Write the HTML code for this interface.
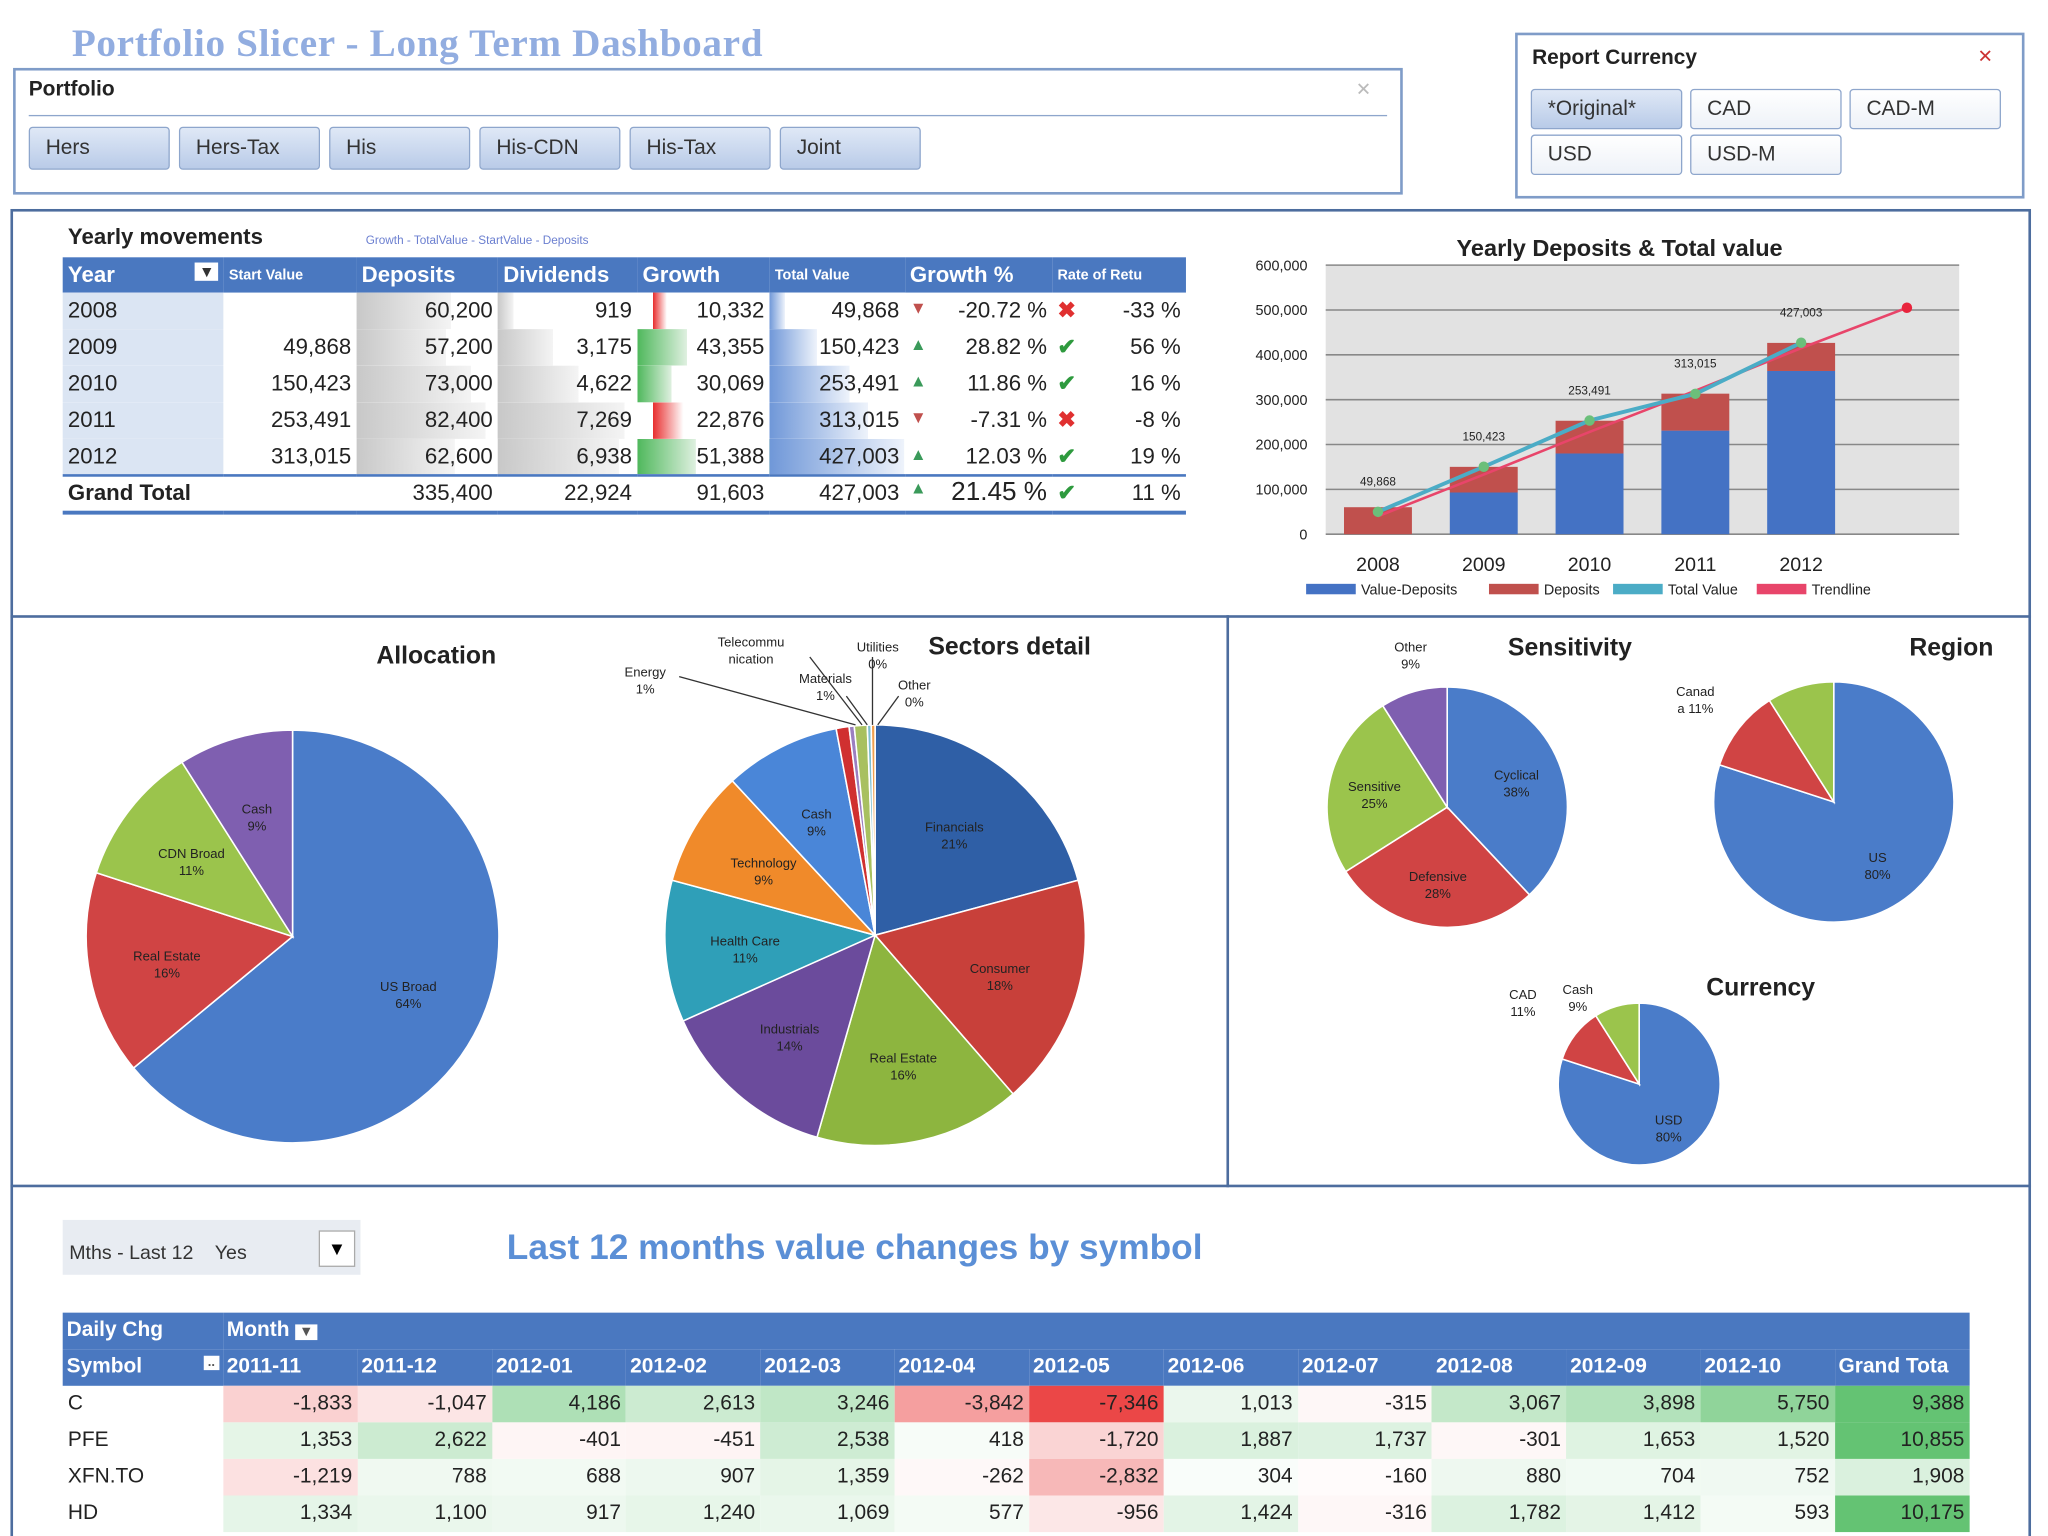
<!DOCTYPE html>
<html><head><meta charset="utf-8">
<style>
html,body{margin:0;padding:0;background:#fff;}
body{width:2048px;height:1536px;overflow:hidden;position:relative;font-family:"Liberation Sans",sans-serif;}
#stage{position:absolute;left:0;top:0;width:1568px;height:1176px;overflow:hidden;transform:scale(1.306122);transform-origin:0 0;}
.abs{position:absolute;}
.box{position:absolute;border:2px solid #7f9cc8;box-sizing:border-box;}
.btn{position:absolute;height:33px;box-sizing:border-box;border:1px solid #8ea6cc;border-radius:3px;background:linear-gradient(#dfe8f6,#b9cbe8);font-size:16px;color:#333;line-height:31px;padding-left:12px;}
.btn2{background:linear-gradient(#fff,#eef2f8);}
table{border-collapse:collapse;}
.ym td{height:28px;font-size:17px;color:#222;text-align:right;padding:0 4px;box-sizing:border-box;position:relative;}
.ym th{height:27px;background:#4a78c0;color:#fff;font-size:17px;text-align:left;padding:0 4px;}
.hm td{height:28px;font-size:16px;color:#222;text-align:right;padding:0 4px;}
.hm th{background:#4a78c0;color:#fff;font-size:16px;text-align:left;font-weight:bold;padding:0 3px;height:28px;}
</style></head>
<body>
<div id="stage">
<div class="abs" style="left:55px;top:17px;font-size:30px;font-weight:bold;color:#92ade0;font-family:'Liberation Serif',serif;letter-spacing:0.5px;">Portfolio Slicer - Long Term Dashboard</div>

<div class="box" style="left:10px;top:52px;width:1064px;height:97px;">
  <div class="abs" style="left:10px;top:6px;font-size:16px;font-weight:bold;color:#222;">Portfolio</div>
  <div class="abs" style="left:10px;top:34px;width:1040px;height:1px;background:#8ea6cc;"></div>
  <div class="abs" style="left:1026px;top:6px;color:#bbb;font-size:14px;">✕</div>
  <div class="btn" style="left:10px;top:43px;width:108px;">Hers</div>
  <div class="btn" style="left:125px;top:43px;width:108px;">Hers-Tax</div>
  <div class="btn" style="left:240px;top:43px;width:108px;">His</div>
  <div class="btn" style="left:355px;top:43px;width:108px;">His-CDN</div>
  <div class="btn" style="left:470px;top:43px;width:108px;">His-Tax</div>
  <div class="btn" style="left:585px;top:43px;width:108px;">Joint</div>
</div>

<div class="box" style="left:1160px;top:25px;width:390px;height:127px;">
  <div class="abs" style="left:11px;top:9px;font-size:16px;font-weight:bold;color:#222;">Report Currency</div>
  <div class="abs" style="left:352px;top:8px;color:#c33;font-size:14px;">✕</div>
  <div class="btn" style="left:10px;top:41px;width:116px;height:31px;line-height:29px;">*Original*</div>
  <div class="btn btn2" style="left:132px;top:41px;width:116px;height:31px;line-height:29px;">CAD</div>
  <div class="btn btn2" style="left:254px;top:41px;width:116px;height:31px;line-height:29px;">CAD-M</div>
  <div class="btn btn2" style="left:10px;top:76px;width:116px;height:31px;line-height:29px;">USD</div>
  <div class="btn btn2" style="left:132px;top:76px;width:116px;height:31px;line-height:29px;">USD-M</div>
</div>

<div class="box" style="left:8px;top:160px;width:1547px;height:1040px;border-color:#4d6d9e;"></div>
<div class="abs" style="left:8px;top:471px;width:1547px;height:2px;background:#4d6d9e;"></div>
<div class="abs" style="left:939px;top:471px;width:2px;height:438px;background:#4d6d9e;"></div>
<div class="abs" style="left:8px;top:907px;width:1547px;height:2px;background:#4d6d9e;"></div>

<div class="abs" style="left:52px;top:172px;font-size:17px;font-weight:bold;color:#222;">Yearly movements</div>
<div class="abs" style="left:280px;top:179px;font-size:9px;color:#6b7fd0;">Growth - TotalValue - StartValue - Deposits</div>
<table class="ym abs" id="ym" style="left:48px;top:197px;width:860px;"></table>

<svg class="abs" id="bar" style="left:940px;top:170px;" width="600" height="300"></svg>

<svg class="abs" id="pies" style="left:0;top:473px;" width="1568" height="434"></svg>

<div class="abs" style="left:48px;top:934px;width:228px;height:42px;background:#e8ecf2;">
  <span class="abs" style="left:5px;top:17px;font-size:15px;color:#333;">Mths - Last 12 &nbsp;&nbsp; Yes</span>
  <span class="abs" style="left:196px;top:8px;width:26px;height:26px;background:#fff;border:1px solid #aaa;font-size:14px;text-align:center;line-height:26px;">▼</span>
</div>
<div class="abs" style="left:388px;top:940px;font-size:27px;font-weight:bold;color:#5b8fd6;">Last 12 months value changes by symbol</div>
<table class="hm abs" id="hm" style="left:48px;top:1005px;width:1460px;"></table>
</div>

<script>
const years=['2008','2009','2010','2011','2012'];
const startVals=[null,49868,150423,253491,313015];
const deposits=[60200,57200,73000,82400,62600];
const dividends=[919,3175,4622,7269,6938];
const growth=[-10332,43355,30069,-22876,51388];
const totalVals=[49868,150423,253491,313015,427003];
const growthPct=[-20.72,28.82,11.86,-7.31,12.03];
const rateRet=[-33,56,16,-8,19];
const totals=['335,400','22,924','91,603','427,003','21.45','11'];

const barCats=['2008','2009','2010','2011','2012'];
const valueMinusDep=[0,93000,180000,231000,364000];
const depSeries=[60200,57200,73000,82400,62600];
const totalLine=[49868,150423,253491,313015,427003];
const trendVals=[40000,133000,228000,320000,415000,505000];
const yTicks=[0,100000,200000,300000,400000,500000,600000];

const allocLabels=['US Broad','Real Estate','CDN Broad','Cash'];
const allocVals=[64,16,11,9];
const sectorLabels=['Financials','Consumer','Real Estate','Industrials','Health Care','Technology','Cash','Energy','Telecommunication','Materials','Utilities','Other'];
const sectorVals=[21,18,16,14,11,9,9,1,0.4,1,0.3,0.3];
const sensLabels=['Cyclical','Defensive','Sensitive','Other'];
const sensVals=[38,28,25,9];
const regionLabels=['US','Canada','Cash'];
const regionVals=[80,11,9];
const currLabels=['USD','CAD','Cash'];
const currVals=[80,11,9];

const months=['2011-11','2011-12','2012-01','2012-02','2012-03','2012-04','2012-05','2012-06','2012-07','2012-08','2012-09','2012-10','Grand Tota'];
const symbols=['C','PFE','XFN.TO','HD'];
const rowC=[-1833,-1047,4186,2613,3246,-3842,-7346,1013,-315,3067,3898,5750,9388];
const rowPFE=[1353,2622,-401,-451,2538,418,-1720,1887,1737,-301,1653,1520,10855];
const rowXFN=[-1219,788,688,907,1359,-262,-2832,304,-160,880,704,752,1908];
const rowHD=[1334,1100,917,1240,1069,577,-956,1424,-316,1782,1412,593,10175];

const fmt=v=>v==null?'':v.toLocaleString('en-US');
const NS='http://www.w3.org/2000/svg';

(function(){
  const t=document.getElementById('ym');
  const widths=[128,100,106,102,100,102,114,108];
  let h='<tr>';
  const heads=['Year','Start Value','Deposits','Dividends','Growth','Total Value','Growth %','Rate of Retu'];
  heads.forEach((x,i)=>{const fs=(i==1||i==5||i==7)?'11px':'17px';h+=`<th style="width:${widths[i]}px;font-size:${fs}">${x}${i==0?'<span style="float:right;background:#fff;color:#333;font-size:12px;padding:0 3px">▼</span>':''}</th>`;});
  t.innerHTML=h+'</tr>';
  const maxDep=90000,maxDiv=8000,maxT=430000;
  years.forEach((y,i)=>{
    const tr=document.createElement('tr');
    
    
    const g=growth[i];
    const gbg=g<0?`linear-gradient(90deg,#fff 12%,#e83030 12%,#fff ${12+Math.abs(g)/1000}%,#fff)`:`linear-gradient(90deg,#4fb85c,#dff0e0 ${g/52000*45}%,#fff ${g/52000*45}%)`;
    tr.innerHTML=`<td style="text-align:left;background:#dbe5f3">${y}</td><td>${fmt(startVals[i])}</td>`+
      `<td style="background:linear-gradient(90deg,#c8c8c8,#f4f4f4 ${deposits[i]/maxDep*100}%,#fff ${deposits[i]/maxDep*100}%)">${fmt(deposits[i])}</td>`+
      `<td style="background:linear-gradient(90deg,#c8c8c8,#f4f4f4 ${dividends[i]/maxDiv*100}%,#fff ${dividends[i]/maxDiv*100}%)">${fmt(dividends[i])}</td>`+
      `<td style="background:${gbg}">${fmt(Math.abs(g))}</td>`+
      `<td style="background:linear-gradient(90deg,#6f97d8,#eef3fb ${totalVals[i]/maxT*100}%,#fff ${totalVals[i]/maxT*100}%)">${fmt(totalVals[i])}</td>`+
      `<td><span style="float:left;color:${growthPct[i]<0?'#c0504d':'#3a9a5a'};font-size:13px">${growthPct[i]<0?'▼':'▲'}</span>${growthPct[i].toFixed(2)} %</td>`+
      `<td><span style="float:left;color:${rateRet[i]<0?'#e03030':'#2e9a3e'};font-weight:bold">${rateRet[i]<0?'✖':'✔'}</span>${rateRet[i]} %</td>`;
    t.appendChild(tr);
  });
  const tr=document.createElement('tr');
  
  
  tr.style.borderTop='2px solid #4a78c0';tr.style.borderBottom='3px solid #4a78c0';
  tr.innerHTML=`<td style="text-align:left;font-weight:bold">Grand Total</td><td></td><td>${totals[0]}</td><td>${totals[1]}</td><td>${totals[2]}</td><td>${totals[3]}</td><td style="font-size:20px"><span style="float:left;color:#3a9a5a;font-size:13px">▲</span>${totals[4]} %</td><td><span style="float:left;color:#2e9a3e;font-weight:bold">✔</span>${totals[5]} %</td>`;
  t.appendChild(tr);
})();

(function(){
  const s=document.getElementById('bar');
  const px0=75,px1=560,py0=239,py1=33;
  const y=v=>py0-(v/600000)*(py0-py1);
  const step=81,x=i=>px0+40+i*step;
  let o='';
  o+=`<rect x="${px0}" y="${py1}" width="${px1-px0}" height="${py0-py1}" fill="#e2e2e2"/>`;
  yTicks.forEach(t=>{o+=`<line x1="${px0}" x2="${px1}" y1="${y(t)}" y2="${y(t)}" stroke="#888" stroke-width="1.2"/><text x="${px0-14}" y="${y(t)+4}" font-size="11" text-anchor="end" fill="#222">${t.toLocaleString('en-US')}</text>`;});
  o+=`<text x="300" y="26" font-size="18" font-weight="bold" text-anchor="middle" fill="#222">Yearly Deposits &amp; Total value</text>`;
  s.innerHTML=o;
  const add=(tag,attrs,name)=>{const e=document.createElementNS(NS,tag);for(const k in attrs)e.setAttribute(k,attrs[k]);s.appendChild(e);return e;};
  barCats.forEach((c,i)=>{
    const b=valueMinusDep[i],d=depSeries[i];
    add('rect',{x:x(i)-26,y:y(b),width:52,height:y(0)-y(b),fill:'#4472c4'},'bar-value-deposits-'+c);
    add('rect',{x:x(i)-26,y:y(b+d),width:52,height:y(b)-y(b+d),fill:'#c0504d'},'bar-deposits-'+c);
    const tx=add('text',{x:x(i),y:y(totalLine[i])-20,'font-size':9,'text-anchor':'middle',fill:'#222'},'data-label-'+c);tx.textContent=totalLine[i].toLocaleString('en-US');
    const xl=add('text',{x:x(i),y:py0+28,'font-size':15,'text-anchor':'middle',fill:'#222'},'x-label-'+c);xl.textContent=c;
  });
  add('polyline',{points:trendVals.map((v,i)=>x(i)+','+y(v)).join(' '),fill:'none',stroke:'#e8456a','stroke-width':2},'trendline');
  add('circle',{cx:x(5),cy:y(trendVals[5]),r:4,fill:'#e8243c'},'trendline-end');
  add('polyline',{points:totalLine.map((v,i)=>x(i)+','+y(v)).join(' '),fill:'none',stroke:'#4bacc6','stroke-width':3},'total-value-line');
  totalLine.forEach((v,i)=>add('circle',{cx:x(i),cy:y(v),r:4,fill:'#6bbf7a'},'total-value-point'));
  const lg=[['#4472c4','Value-Deposits',60],['#c0504d','Deposits',200],['#4bacc6','Total Value',295],['#e8456a','Trendline',405]];
  lg.forEach(l=>{add('rect',{x:l[2],y:277,width:38,height:8,fill:l[0]},'legend-swatch');const t=add('text',{x:l[2]+42,y:285,'font-size':11,fill:'#222'},'legend-entry');t.textContent=l[1];});
})();

(function(){
  const s=document.getElementById('pies');
  const add=(tag,attrs,name)=>{const e=document.createElementNS(NS,tag);for(const k in attrs)e.setAttribute(k,attrs[k]);s.appendChild(e);return e;};
  function pie(cx,cy,r,vals,labels,colors,key,labelIdx){
    const tot=vals.reduce((a,b)=>a+b,0);let a=-Math.PI/2;
    vals.forEach((v,i)=>{
      const a2=a+v/tot*2*Math.PI;
      const x1=cx+r*Math.cos(a),y1=cy+r*Math.sin(a),x2=cx+r*Math.cos(a2),y2=cy+r*Math.sin(a2);
      const lg=(a2-a)>Math.PI?1:0;
      add('path',{d:`M${cx},${cy}L${x1},${y1}A${r},${r} 0 ${lg} 1 ${x2},${y2}Z`,fill:colors[i%colors.length],stroke:'#fff','stroke-width':1.2},key+'-slice-'+labels[i].toLowerCase().replace(/[^a-z]+/g,'-'));
      if(!labelIdx||labelIdx.includes(i)){
        const m=(a+a2)/2,lr=r*0.62;
        const t=add('text',{x:cx+lr*Math.cos(m),y:cy+lr*Math.sin(m),'font-size':10,'text-anchor':'middle',fill:'#222'},key+'-label');
        t.textContent=labels[i];
        const t2=add('text',{x:cx+lr*Math.cos(m),y:cy+lr*Math.sin(m)+13,'font-size':10,'text-anchor':'middle',fill:'#222'},key+'-pct');
        t2.textContent=Math.round(v)+'%';
      }
      a=a2;
    });
  }
  const title=(x,y,t,n)=>{const e=add('text',{x:x,y:y,'font-size':19,'font-weight':'bold',fill:'#222','text-anchor':'middle'},n);e.textContent=t;};
  title(334,35,'Allocation','allocation-title');
  title(773,28,'Sectors detail','sectors-title');
  title(1202,29,'Sensitivity','sensitivity-title');
  title(1494,29,'Region','region-title');
  title(1348,289,'Currency','currency-title');
  pie(224,244,158,allocVals,allocLabels,['#4a7cc9','#d04444','#9bc44c','#7f5fb0'],'allocation');
  pie(670,243,161,sectorVals,sectorLabels,['#2f5fa6','#c8403a','#8db53f','#6b4b9c','#2f9fb8','#f08a2a','#4a86d8','#d03030','#9b7fc0','#a8c060','#7fbfd0','#f0a050'],'sectors',[0,1,2,3,4,5,6]);
  pie(1108,145,92,sensVals,sensLabels,['#4a7cc9','#d04444','#9bc44c','#7f5fb0'],'sensitivity',[0,1,2]);
  pie(1404,141,92,regionVals,regionLabels,['#4a7cc9','#d04444','#9bc44c'],'region',[0]);
  pie(1255,357,62,currVals,currLabels,['#4a7cc9','#d04444','#9bc44c'],'currency',[0]);
  const ext=[[494,45,'Energy','1%'],[575,22,'Telecommu','nication'],[632,50,'Materials','1%'],[672,26,'Utilities','0%'],[700,55,'Other','0%'],[1080,26,'Other','9%'],[1298,60,'Canad','a 11%'],[1166,292,'CAD','11%'],[1208,288,'Cash','9%']];
  ext.forEach(e=>{const t=add('text',{x:e[0],y:e[1],'font-size':10,'text-anchor':'middle',fill:'#222'},'outside-label');t.textContent=e[2];const t2=add('text',{x:e[0],y:e[1]+13,'font-size':10,'text-anchor':'middle',fill:'#222'},'outside-label-pct');t2.textContent=e[3];});
  [[520,45,655,82],[620,30,660,82],[648,60,664,82],[668,30,668,82],[688,60,672,82]].forEach(l=>add('line',{x1:l[0],y1:l[1],x2:l[2],y2:l[3],stroke:'#333','stroke-width':1},'leader-line'));
})();

(function(){
  const t=document.getElementById('hm');
  let h='<tr><th style="width:120px">Daily Chg</th><th colspan="13">Month <span style="background:#fff;color:#555;font-size:11px;padding:0 3px">▼</span></th></tr><tr><th>Symbol <span style="float:right;background:#fff;color:#555;font-size:10px;padding:0 3px">..</span></th>';
  months.forEach(m=>h+=`<th style="width:100px">${m}</th>`);
  t.innerHTML=h+'</tr>';
  const rows=[rowC,rowPFE,rowXFN,rowHD];
  const col=v=>{if(v>=0){const k=Math.min(v/8000,1);return `rgb(${Math.round(255-155*k)},${Math.round(255-60*k)},${Math.round(255-140*k)})`;}const k=Math.min(-v/7400,1);return `rgb(${Math.round(255-20*k)},${Math.round(255-185*k)},${Math.round(255-185*k)})`;};
  rows.forEach((r,ri)=>{
    const tr=document.createElement('tr');
    
    
    let s=`<td style="text-align:left">${symbols[ri]}</td>`;
    r.forEach(v=>s+=`<td style="background:${col(v)}">${v.toLocaleString('en-US')}</td>`);
    tr.innerHTML=s;t.appendChild(tr);
  });
})();
</script>
</body></html>
